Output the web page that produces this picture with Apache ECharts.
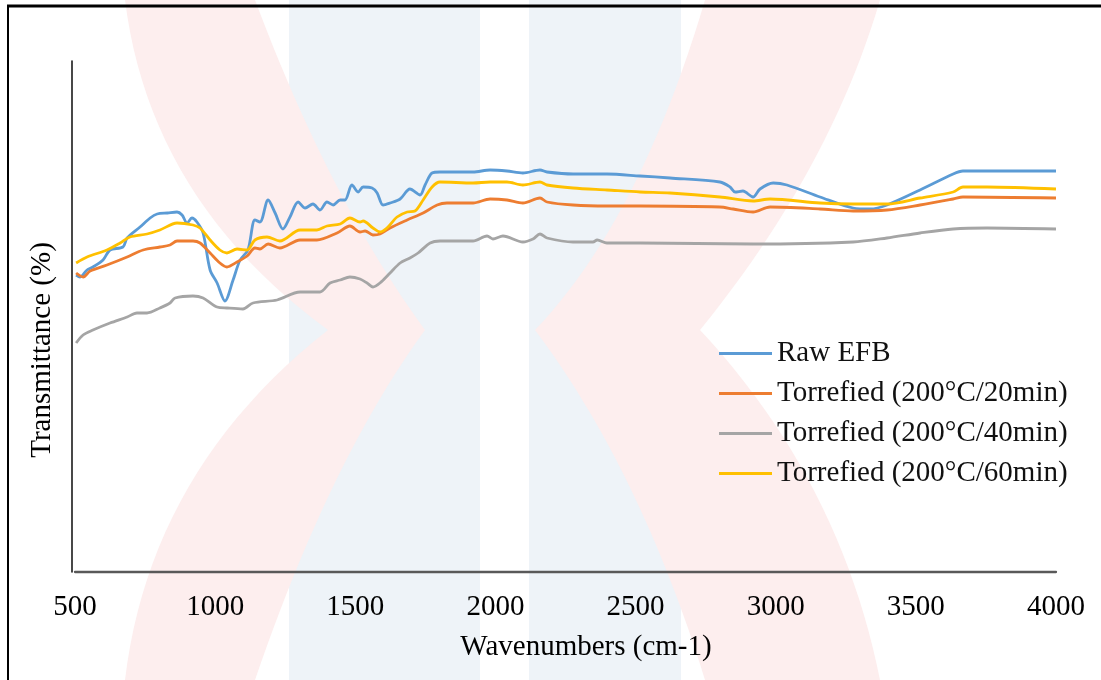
<!DOCTYPE html>
<html>
<head>
<meta charset="utf-8">
<script src="https://cdn.jsdelivr.net/npm/echarts@6/dist/echarts.min.js"></script>
<style>
html,body{margin:0;padding:0;background:#fff;}
#chart{width:1101px;height:680px;}
</style>
</head>
<body>
<div id="chart"></div>
<script>
// Legend names
var seriesNames = ['Raw EFB', 'Torrefied (200°C/20min)', 'Torrefied (200°C/40min)', 'Torrefied (200°C/60min)'];
var xTicks = [500, 1000, 1500, 2000, 2500, 3000, 3500, 4000];

// [wavenumber (cm-1), transmittance (arbitrary %)]
var rawEFB = [[504,59.4],[518,59.0],[543,60.4],[564,61.0],[600,62.4],[625,64.4],[671,65.0],[686,66.8],[732,69.0],[768,70.8],[793,71.6],[830,71.8],[864,72.0],[882,71.4],[900,69.8],[917,70.8],[935,70.0],[957,67.8],[982,60.4],[1007,57.8],[1035,54.2],[1064,58.4],[1089,62.4],[1117,64.4],[1142,70.4],[1160,70.0],[1189,74.4],[1214,71.8],[1242,68.6],[1267,71.0],[1296,74.0],[1321,72.8],[1349,73.6],[1374,72.4],[1399,74.0],[1421,73.4],[1446,74.4],[1463,74.4],[1488,77.4],[1510,76.0],[1528,77.0],[1560,76.8],[1578,75.8],[1599,73.4],[1624,73.8],[1660,74.6],[1695,76.6],[1731,75.4],[1749,77.4],[1774,79.8],[1802,80.0],[1920,80.0],[1981,80.4],[2041,80.2],[2098,79.8],[2159,80.4],[2184,80.0],[2277,79.6],[2398,79.6],[2516,79.2],[2623,78.8],[2801,78.0],[2837,77.0],[2855,76.0],[2883,76.2],[2919,75.0],[2944,76.6],[2991,77.8],[3040,77.4],[3158,75.0],[3276,72.8],[3337,72.6],[3397,73.4],[3515,76.4],[3633,79.6],[3668,80.2],[3754,80.2],[4000,80.2]];

var torr20 = [[504,59.8],[529,59.0],[554,60.2],[614,61.4],[686,63.0],[743,64.4],[803,65.0],[839,65.4],[864,66.2],[921,66.2],[946,65.8],[982,63.8],[1017,61.8],[1042,61.0],[1078,62.0],[1114,63.2],[1142,64.8],[1160,64.6],[1189,65.6],[1231,64.8],[1303,66.4],[1363,66.4],[1435,67.8],[1481,69.2],[1517,68.0],[1535,68.2],[1563,67.4],[1588,67.6],[1624,68.8],[1685,70.4],[1742,71.8],[1792,73.4],[1827,73.8],[1920,73.8],[1981,74.6],[2041,74.4],[2098,73.8],[2159,74.8],[2184,74.0],[2277,73.4],[2398,73.2],[2516,73.2],[2801,73.0],[2848,72.6],[2919,72.0],[2980,73.0],[3158,72.6],[3276,72.2],[3397,72.4],[3515,73.4],[3633,74.6],[3668,75.0],[4000,74.8]];

var torr40 = [[504,45.8],[529,47.4],[564,48.4],[625,49.8],[686,51.0],[721,51.8],[757,51.8],[803,52.8],[839,53.8],[857,54.8],[921,55.2],[957,54.8],[1007,53.0],[1042,52.8],[1099,52.6],[1135,53.8],[1221,54.4],[1303,56.0],[1374,56.0],[1410,57.8],[1446,58.4],[1481,59.0],[1517,58.6],[1542,57.8],[1563,57.0],[1588,57.8],[1624,59.8],[1660,61.8],[1695,62.8],[1724,63.8],[1767,65.8],[1802,66.2],[1863,66.2],[1920,66.2],[1970,67.2],[1991,66.6],[2027,67.2],[2098,66.0],[2134,66.6],[2159,67.6],[2184,66.8],[2277,66.0],[2348,66.0],[2363,66.4],[2398,65.8],[2516,65.8],[2919,65.6],[3276,66.0],[3397,66.8],[3515,67.8],[3633,68.6],[3754,68.8],[4000,68.6]];

var torr60 = [[504,61.8],[543,63.0],[614,64.4],[661,65.8],[696,67.0],[757,67.6],[803,68.4],[864,69.8],[921,69.4],[946,68.8],[982,66.4],[1017,64.4],[1042,63.8],[1078,64.6],[1114,64.4],[1142,66.4],[1185,67.0],[1231,66.2],[1303,68.4],[1363,68.4],[1399,69.2],[1446,69.6],[1481,70.8],[1517,70.0],[1528,70.2],[1563,68.8],[1588,68.0],[1613,68.8],[1649,71.0],[1685,72.0],[1713,72.2],[1742,74.4],[1774,77.0],[1802,78.0],[1920,77.8],[1981,78.0],[2041,78.0],[2098,77.4],[2159,78.0],[2184,77.4],[2277,76.8],[2398,76.4],[2516,76.0],[2623,75.8],[2801,75.0],[2919,74.2],[2980,74.6],[3158,73.8],[3276,73.6],[3397,73.6],[3515,74.8],[3633,76.0],[3668,77.0],[3754,77.0],[4000,76.6]];

var colors = ['#5B9BD5', '#ED7D31', '#A5A5A5', '#FFC000'];
var seriesData = [rawEFB, torr20, torr40, torr60];

// background watermark outline (decorative): 'L' = point, 'Q' = quadratic curve
function quadPoly(segs) {
  var pts = [];
  segs.forEach(function (s) {
    if (s[0] === 'L') { pts.push([s[1], s[2]]); return; }
    var p0 = pts[pts.length - 1], cx = s[1], cy = s[2], x1 = s[3], y1 = s[4];
    for (var i = 1; i <= 24; i++) {
      var t = i / 24, u = 1 - t;
      pts.push([u*u*p0[0] + 2*u*t*cx + t*t*x1, u*u*p0[1] + 2*u*t*cy + t*t*y1]);
    }
  });
  return pts;
}
var leftMark = quadPoly([['L',125,0],['L',255,0],['Q',330,200,425,330],['Q',330,460,255,680],['L',125,680],['Q',150,470,328,330],['Q',150,200,125,0]]);
var rightMark = quadPoly([['L',705,0],['L',880,0],['Q',830,170,700,330],['Q',840,480,880,680],['L',705,680],['Q',640,470,535,330],['Q',640,220,705,0]]);

var FONT = '"Liberation Serif", "Times New Roman", serif';
var chart = echarts.init(document.getElementById('chart'), null, {renderer: 'canvas'});

var series = seriesNames.map(function (n, i) {
  return {
    name: n, type: 'line', data: seriesData[i], showSymbol: false, symbol: 'none',
    smooth: 0.3, lineStyle: {color: colors[i], width: 2.8}, itemStyle: {color: colors[i]},
    z: 3
  };
});

chart.setOption({
  animation: false,
  backgroundColor: '#fff',
  color: colors,
  grid: {left: 75, right: 45, top: 61, bottom: 108, containLabel: false},
  xAxis: {
    type: 'value', min: 500, max: 4000, interval: 500,
    name: 'Wavenumbers (cm-1)', nameLocation: 'middle', nameGap: 61,
    nameTextStyle: {fontFamily: FONT, fontSize: 29, color: '#000', padding: [0, 0, 0, 41]},
    axisLine: {show: true, lineStyle: {color: '#595959', width: 2.3}},
    axisTick: {show: false}, splitLine: {show: false},
    axisLabel: {fontFamily: FONT, fontSize: 29, color: '#000', margin: 21,
      formatter: function (v) { return xTicks.indexOf(v) >= 0 ? String(v) : ''; }}
  },
  yAxis: {
    type: 'value', min: 0, max: 102.2, offset: 3,
    name: 'Transmittance (%)', nameLocation: 'middle', nameGap: 15, nameRotate: 90,
    nameTextStyle: {fontFamily: FONT, fontSize: 29, color: '#000', padding: [0, 67, 0, 0]},
    axisLine: {show: true, lineStyle: {color: '#1a1a1a', width: 1.6}},
    axisTick: {show: false}, splitLine: {show: false}, axisLabel: {show: false}
  },
  legend: {
    orient: 'vertical', left: 719, top: 339, itemGap: 11, padding: 0,
    itemWidth: 53, itemHeight: 3, icon: 'rect',
    data: seriesNames,
    textStyle: {fontFamily: FONT, fontSize: 29, color: '#111', lineHeight: 29}
  },
  graphic: [
    {type: 'rect', z: -30, silent: true, shape: {x: 289, y: 0, width: 191, height: 680}, style: {fill: '#eef3f8'}},
    {type: 'rect', z: -30, silent: true, shape: {x: 529, y: 0, width: 152, height: 680}, style: {fill: '#eef3f8'}},
    {type: 'polygon', z: -20, silent: true, shape: {points: leftMark}, style: {fill: '#fdeeee'}},
    {type: 'polygon', z: -20, silent: true, shape: {points: rightMark}, style: {fill: '#fdeeee'}},
    {type: 'line', z: 10, silent: true, shape: {x1: 8, y1: 5, x2: 8, y2: 680}, style: {stroke: '#000', lineWidth: 2}},
    {type: 'line', z: 10, silent: true, shape: {x1: 7, y1: 6, x2: 1101, y2: 6}, style: {stroke: '#000', lineWidth: 3}}
  ],
  series: series
});
</script>
</body>
</html>
